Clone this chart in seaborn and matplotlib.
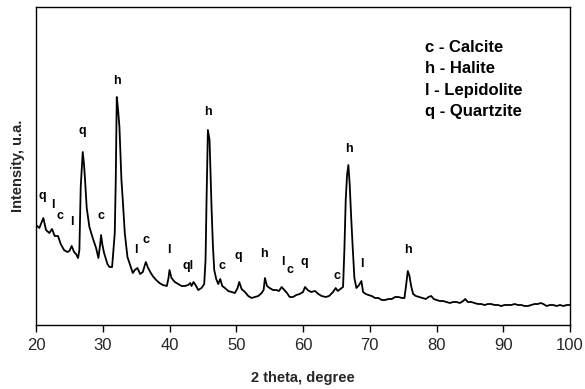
import matplotlib
matplotlib.use("Agg")
import matplotlib.pyplot as plt
import seaborn as sns
import pandas as pd

# X-ray diffraction pattern (2 theta in degrees, intensity in arbitrary units)
two_theta = [
    20.0, 20.5, 21.1, 21.5, 22.0, 22.4, 22.8, 23.3, 23.7, 24.2, 24.7, 25.0, 25.35, 25.7,
    26.0, 26.3, 26.5, 26.7, 27.0, 27.2, 27.35, 27.6, 28.0, 28.5, 29.0, 29.35, 29.6, 29.75,
    29.95, 30.2, 30.7, 31.0, 31.4, 31.6, 31.8, 31.95, 32.1, 32.3, 32.5, 32.8, 33.0, 33.3,
    33.7, 34.0, 34.5, 34.8, 35.2, 35.6, 36.0, 36.45, 36.8, 37.2, 37.6, 38.0, 38.5, 39.0,
    39.6, 39.85, 40.0, 40.3, 40.8, 41.3, 41.8, 42.3, 42.8, 43.1, 43.3, 43.6, 43.9, 44.3,
    44.8, 45.2, 45.4, 45.55, 45.75, 46.0, 46.1, 46.3, 46.5, 46.7, 47.0, 47.3, 47.6, 47.9,
    48.3, 48.8, 49.3, 49.8, 50.2, 50.45, 50.8, 51.3, 51.8, 52.3, 52.8, 53.3, 53.8, 54.1,
    54.3, 54.6, 55.0, 55.5, 56.0, 56.4, 56.8, 57.2, 57.6, 58.0, 58.5, 59.0, 59.5, 60.0,
    60.3, 60.7, 61.2, 61.8, 62.3, 62.8, 63.4, 63.9, 64.5, 64.9, 65.2, 65.6, 66.0, 66.2,
    66.4, 66.6, 66.8, 67.0, 67.2, 67.45, 67.7, 68.0, 68.4, 68.75, 69.0, 69.4, 69.8, 70.3,
    70.8, 71.3, 71.8, 72.3, 72.8, 73.3, 73.8, 74.3, 74.8, 75.2, 75.45, 75.7, 75.95, 76.2,
    76.5, 76.9, 77.4, 77.9, 78.4, 78.8, 79.2, 79.6, 80.0, 80.5, 81.0, 81.5, 82.0, 82.5,
    83.0, 83.5, 84.0, 84.3, 84.7, 85.2, 85.7, 86.2, 86.7, 87.2, 87.7, 88.2, 88.7, 89.2,
    89.7, 90.2, 90.7, 91.2, 91.7, 92.2, 92.7, 93.2, 93.7, 94.2, 94.7, 95.2, 95.6, 96.0,
    96.5, 97.0, 97.5, 98.0, 98.5, 99.0, 99.5, 100.0,
]
intensity = [
    100, 97, 107, 95, 92, 96, 89, 89, 81, 75, 73, 74, 79, 73,
    71, 67, 75, 138, 173, 160, 145, 117, 98, 87, 77, 67, 80, 90,
    80, 72, 61, 58, 58, 75, 92, 145, 228, 215, 198, 145, 125, 92,
    68, 62, 52, 55, 57, 51, 53, 63, 57, 52, 48, 45, 42, 40,
    39, 47, 55, 47, 43, 41, 39, 39, 40, 42, 39, 43, 40, 35,
    37, 41, 65, 125, 195, 185, 163, 117, 80, 55, 46, 41, 46, 39,
    37, 34, 33, 32, 37, 43, 36, 33, 29, 27, 28, 29, 32, 35,
    47, 39, 37, 35, 35, 34, 38, 35, 32, 28, 28, 30, 31, 33,
    38, 35, 33, 34, 31, 29, 28, 29, 33, 37, 34, 36, 38, 75,
    125, 150, 160, 140, 110, 77, 47, 37, 40, 44, 33, 31, 30, 29,
    27, 27, 25, 25, 26, 26, 28, 28, 27, 27, 40, 54, 49, 39,
    31, 29, 28, 27, 26, 28, 29, 26, 25, 24, 24, 23, 22, 23,
    23, 22, 24, 26, 23, 23, 22, 21, 21, 20, 21, 21, 20, 20,
    19, 20, 20, 20, 21, 20, 20, 19, 19, 20, 21, 21, 22, 21,
    19, 20, 20, 19, 20, 19, 20, 20,
]

# Phase letters marking the reflections
peak_labels = ["q", "l", "c", "l", "q", "c", "h", "l", "c", "l", "ql",
               "h", "c", "q", "h", "l", "c", "q", "c", "h", "l", "h"]
peak_theta = [20.9, 22.55, 23.6, 25.4, 26.9, 29.75, 32.1, 35.0, 36.5, 39.9, 42.8,
              45.8, 47.9, 50.3, 54.2, 57.0, 58.05, 60.2, 65.1, 66.9, 68.8, 75.7]
label_height = [129, 120, 109, 103, 194, 109, 244, 75, 85, 75, 59,
                213, 59, 69, 71, 63, 55, 63, 49, 176, 61, 75]

phase_key = ["c - Calcite", "h - Halite", "l - Lepidolite", "q - Quartzite"]

df = pd.DataFrame({"two_theta": two_theta, "intensity": intensity})

sns.set_style("white")
plt.rcParams["font.family"] = ["Liberation Sans", "DejaVu Sans"]

fig = plt.figure(figsize=(5.85, 3.89), dpi=100)
ax = fig.add_axes([36 / 585, 1 - 325 / 389, (570 - 36) / 585, (325 - 7) / 389])

sns.lineplot(data=df, x="two_theta", y="intensity", ax=ax,
             color="black", linewidth=1.3, estimator=None)

for lab, tx, ty in zip(peak_labels, peak_theta, label_height):
    ax.text(tx, ty, lab, ha="center", va="center", fontsize=9,
            fontweight="bold", color="black")

ax.text(0.728, 0.772, "\n".join(phase_key), transform=ax.transAxes,
        ha="left", va="center", fontsize=12, fontweight="bold",
        linespacing=1.55, color="black")

ax.set_xlim(20, 100)
ax.set_ylim(0, 318)
ax.set_xticks(range(20, 101, 10))
ax.set_yticks([])
ax.tick_params(axis="x", direction="out", length=5, width=1, color="black",
               labelsize=12, pad=4, bottom=True)
ax.set_xlabel("2 theta, degree", fontsize=10.5, fontweight="bold", labelpad=13)
ax.set_ylabel("Intensity, u.a.", fontsize=10.5, fontweight="bold", labelpad=8)

for side in ["left", "right", "top", "bottom"]:
    ax.spines[side].set_visible(True)
    ax.spines[side].set_color("black")
    ax.spines[side].set_linewidth(1.0)

fig.savefig("out.png", dpi=100)
